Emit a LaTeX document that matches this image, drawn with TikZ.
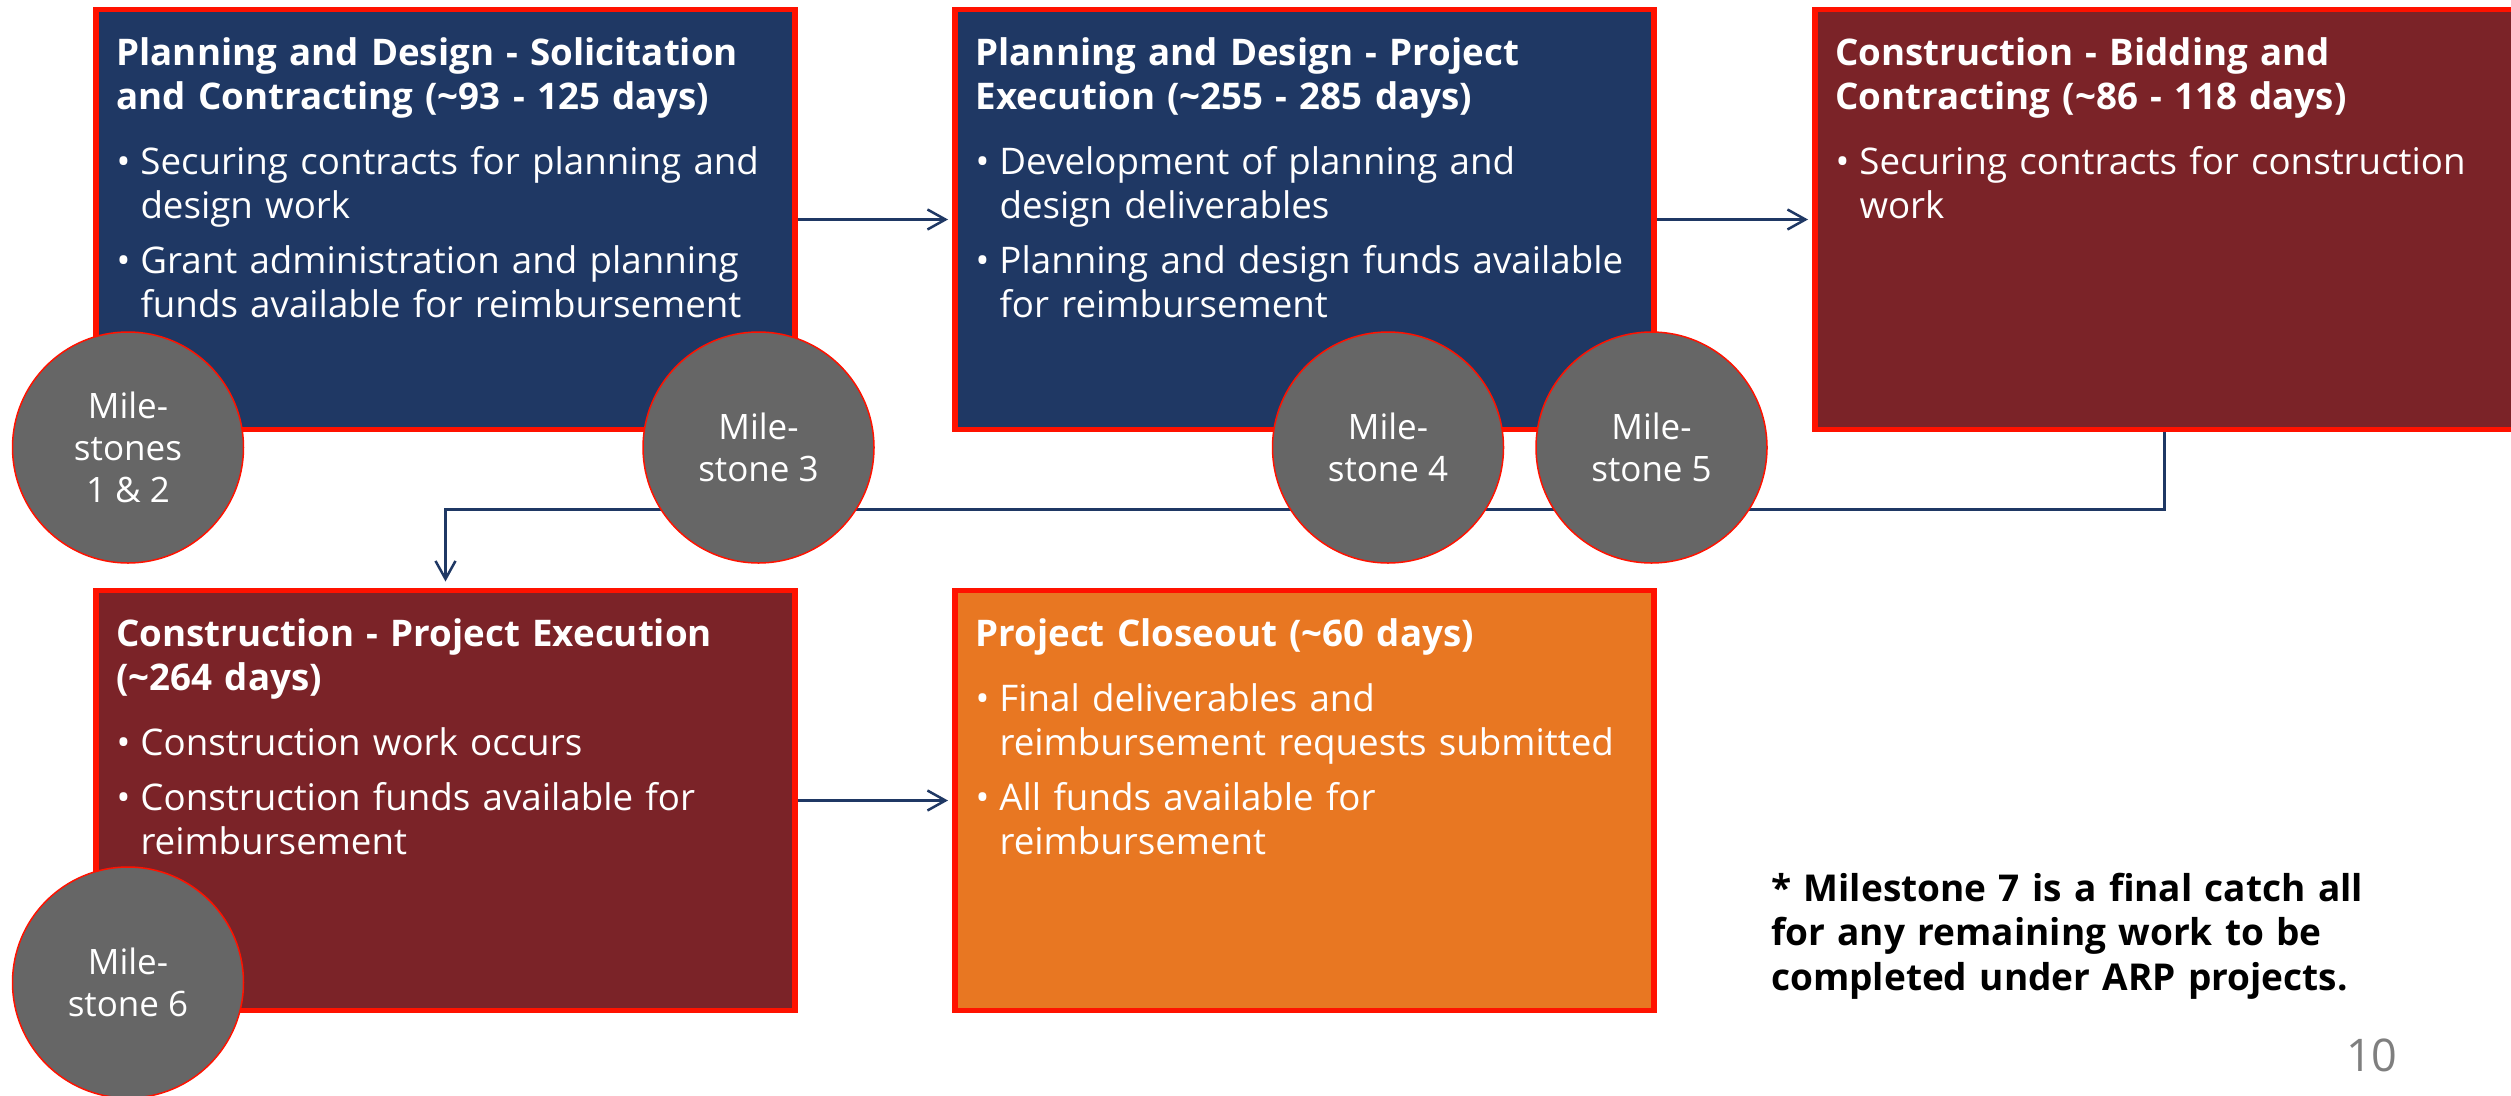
\documentclass[tikz,border=0pt]{standalone}
\usepackage{fontspec}
\setmainfont{Open Sans}
\usetikzlibrary{arrows.meta,calc}
\definecolor{navybox}{HTML}{1F3864}
\definecolor{maroonbox}{HTML}{7B2328}
\definecolor{orangebox}{HTML}{E87722}
\definecolor{bordred}{HTML}{FF1200}
\definecolor{msgray}{HTML}{666666}
\definecolor{connblue}{HTML}{1F3864}
\definecolor{pagegray}{HTML}{7F7F7F}
\newcommand{\boxtitle}[1]{{\bfseries #1\par}\vspace{21pt}}
\newcommand{\bitem}[1]{\hangindent=24pt\hangafter=1\noindent\makebox[24pt][l]{\textbullet}#1\par\vspace{11pt}}
\begin{document}
\begin{tikzpicture}[x=1pt,y=-1pt,
  phase/.style={draw=bordred, line width=5.5pt, minimum width=699pt, minimum height=420pt,
    inner sep=0pt, outer sep=0pt, anchor=north west},
  boxtext/.style={anchor=base west, inner sep=0pt, outer sep=0pt, text=white, text width=690pt,
    align=left, font=\fontsize{36.7}{44}\selectfont},
  ms/.style={circle, draw=bordred, line width=1.5pt, fill=msgray, minimum size=231pt, inner sep=0pt,
    text=white, align=center, font=\fontsize{35}{42}\selectfont},
  conn/.style={draw=connblue, line width=2.5pt, shorten <=2.75pt, shorten >=7pt,
    -{Straight Barb[length=18pt,width=20pt,line width=2.5pt]}},
]
\useasboundingbox (0,0) rectangle (2511,1095);
\clip (0,0) rectangle (2511,1095);
\fill[white] (0,0) rectangle (2511,1095);

% boxes
\node[phase, fill=navybox] (b1) at (96,9.5) {};
\node[phase, fill=navybox] (b2) at (955,9.5) {};
\node[phase, fill=maroonbox] (b3) at (1815,9.5) {};
\node[phase, fill=maroonbox] (b4) at (96,590.5) {};
\node[phase, fill=orangebox] (b5) at (955,590.5) {};

% texts
\node[boxtext] (t1) at ($(b1.north west)+(20.5,56)$) {%
\boxtitle{Planning and Design - Solicitation\newline and Contracting (\textasciitilde 93 - 125 days)}%
\bitem{Securing contracts for planning and\newline design work}%
\bitem{Grant administration and planning\newline funds available for reimbursement}};
\node[boxtext] (t2) at ($(b2.north west)+(20.5,56)$) {%
\boxtitle{Planning and Design - Project\newline Execution (\textasciitilde 255 - 285 days)}%
\bitem{Development of planning and\newline design deliverables}%
\bitem{Planning and design funds available\newline for reimbursement}};
\node[boxtext] (t3) at ($(b3.north west)+(20.5,56)$) {%
\boxtitle{Construction - Bidding and\newline Contracting (\textasciitilde 86 - 118 days)}%
\bitem{Securing contracts for construction\newline work}};
\node[boxtext] (t4) at ($(b4.north west)+(20.5,56)$) {%
\boxtitle{Construction - Project Execution\newline (\textasciitilde 264 days)}%
\bitem{Construction work occurs}%
\bitem{Construction funds available for\newline reimbursement}};
\node[boxtext] (t5) at ($(b5.north west)+(20.5,56)$) {%
\boxtitle{Project Closeout (\textasciitilde 60 days)}%
\bitem{Final deliverables and\newline reimbursement requests submitted}%
\bitem{All funds available for\newline reimbursement}};

% connectors
\draw[conn] (b1.east) -- (b2.west);
\draw[conn] (b2.east) -- (b3.west);
\draw[conn, shorten >=9pt] (b3.south) -- ++(0,80) -| (b4.north);
\draw[conn] (b4.east) -- (b5.west);

% milestones
\node[ms] (m12) at (128,447.5) {Mile-\\stones\\1 \& 2};
\node[ms] (m3) at (758.5,447.5) {Mile-\\stone 3};
\node[ms] (m4) at (1388,447.5) {Mile-\\stone 4};
\node[ms] (m5) at (1651.5,447.5) {Mile-\\stone 5};
\node[ms] (m6) at (128,982.5) {Mile-\\stone 6};

% footnote and page number
\node[anchor=base west, inner sep=0pt, text width=800pt, align=left,
  font=\fontsize{37}{44.5}\selectfont\bfseries] (note) at (1771,901)
  {* Milestone 7 is a final catch all\\for any remaining work to be\\completed under ARP projects.};
\node[anchor=base west, inner sep=0pt, text=pagegray, font=\fontsize{45}{54}\selectfont] (pg) at (2346,1071) {10};
\end{tikzpicture}
\end{document}
